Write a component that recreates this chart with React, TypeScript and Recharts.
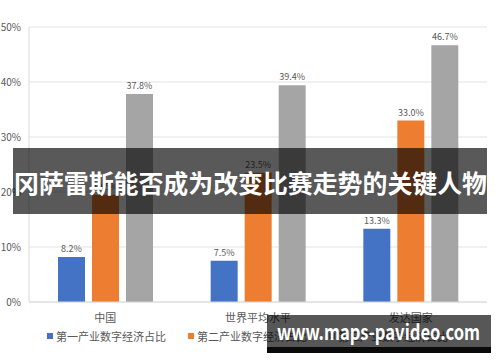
import React from 'react';
import { BarChart, Bar, XAxis, YAxis, CartesianGrid, Legend, LabelList } from 'recharts';

const categories = ['中国', '世界平均水平', '发达国家'];
const primaryShare = [8.2, 7.5, 13.3];
const secondaryShare = [19.5, 23.5, 33.0];
const tertiaryShare = [37.8, 39.4, 46.7];
const seriesNames = ['第一产业数字经济占比', '第二产业数字经济占比', '第三产业数字经济占比'];
const seriesColors = ['#4472C4', '#ED7D31', '#A5A5A5'];
const yTicks = [0, 10, 20, 30, 40, 50];
const bannerText = '冈萨雷斯能否成为改变比赛走势的关键人物';
const watermarkText = 'www.maps-pavideo.com';

const data = categories.map((c, i) => ({
  name: c,
  a: primaryShare[i],
  b: secondaryShare[i],
  c: tertiaryShare[i],
}));

const FONT = '"Noto Sans CJK SC", "Noto Sans", sans-serif';
const fmt = (v: any) => `${Number(v).toFixed(1)}%`;

const LegendContent = () => (
  <div style={{ display: 'flex', justifyContent: 'center', gap: 22, whiteSpace: 'nowrap', fontSize: 11, color: '#595959', fontFamily: FONT, lineHeight: '16px', paddingLeft: 8 }}>
    {seriesNames.map((name, i) => (
      <div key={name} style={{ display: 'flex', alignItems: 'center' }}>
        <span style={{ display: 'inline-block', width: 6, height: 6, background: seriesColors[i], marginRight: 3 }} />
        <span>{name}</span>
      </div>
    ))}
  </div>
);

export default function App() {
  return (
    <div style={{ position: 'absolute', left: 0, top: 0, width: 500, height: 362, background: '#fff', fontFamily: FONT }}>
      <BarChart
        width={500}
        height={362}
        data={data}
        margin={{ top: 27, right: 13, left: 0, bottom: 18 }}
        barSize={27}
        barGap={7}
      >
        <CartesianGrid vertical={false} stroke="#e3e3e3" />
        <XAxis
          dataKey="name"
          axisLine={{ stroke: '#d9d9d9' }}
          tickLine={false}
          tickMargin={6}
          tick={{ fill: '#595959', fontSize: 11, fontFamily: FONT }}
          height={26}
        />
        <YAxis
          width={29}
          domain={[0, 50]}
          ticks={yTicks}
          tickFormatter={(v: any) => `${v}%`}
          axisLine={{ stroke: '#d9d9d9' }}
          tickLine={false}
          tick={{ fill: '#595959', fontSize: 10, fontFamily: FONT }}
        />
        <Legend verticalAlign="bottom" content={<LegendContent />} />
        <Bar dataKey="a" name={seriesNames[0]} fill={seriesColors[0]} isAnimationActive={false}>
          <LabelList dataKey="a" position="top" formatter={fmt} style={{ fill: '#595959', fontSize: 9, fontFamily: FONT }} />
        </Bar>
        <Bar dataKey="b" name={seriesNames[1]} fill={seriesColors[1]} isAnimationActive={false}>
          <LabelList dataKey="b" position="top" formatter={fmt} style={{ fill: '#595959', fontSize: 9, fontFamily: FONT }} />
        </Bar>
        <Bar dataKey="c" name={seriesNames[2]} fill={seriesColors[2]} isAnimationActive={false}>
          <LabelList dataKey="c" position="top" formatter={fmt} style={{ fill: '#595959', fontSize: 9, fontFamily: FONT }} />
        </Bar>
      </BarChart>
      <svg width={500} height={362} style={{ position: 'absolute', left: 0, top: 0, pointerEvents: 'none' }}>
        <rect x={13} y={148} width={474} height={66} fill="rgba(0,0,0,0.65)" />
        <text
          x={14}
          y={182}
          dominantBaseline="central"
          fill="#fff"
          fontSize={25}
          fontWeight="bold"
          fontFamily={FONT}
          textLength={473}
          lengthAdjust="spacingAndGlyphs"
        >
          {bannerText}
        </text>
        <rect x={267} y={315} width={224} height={32} fill="rgba(0,0,0,0.66)" />
        <rect x={267} y={347} width={224} height={6} fill="#0a0a0a" />
        <text
          x={277}
          y={331}
          dominantBaseline="central"
          fill="#fff"
          fontSize={21}
          fontWeight="bold"
          fontFamily={FONT}
          textLength={203}
          lengthAdjust="spacingAndGlyphs"
        >
          {watermarkText}
        </text>
      </svg>
    </div>
  );
}
